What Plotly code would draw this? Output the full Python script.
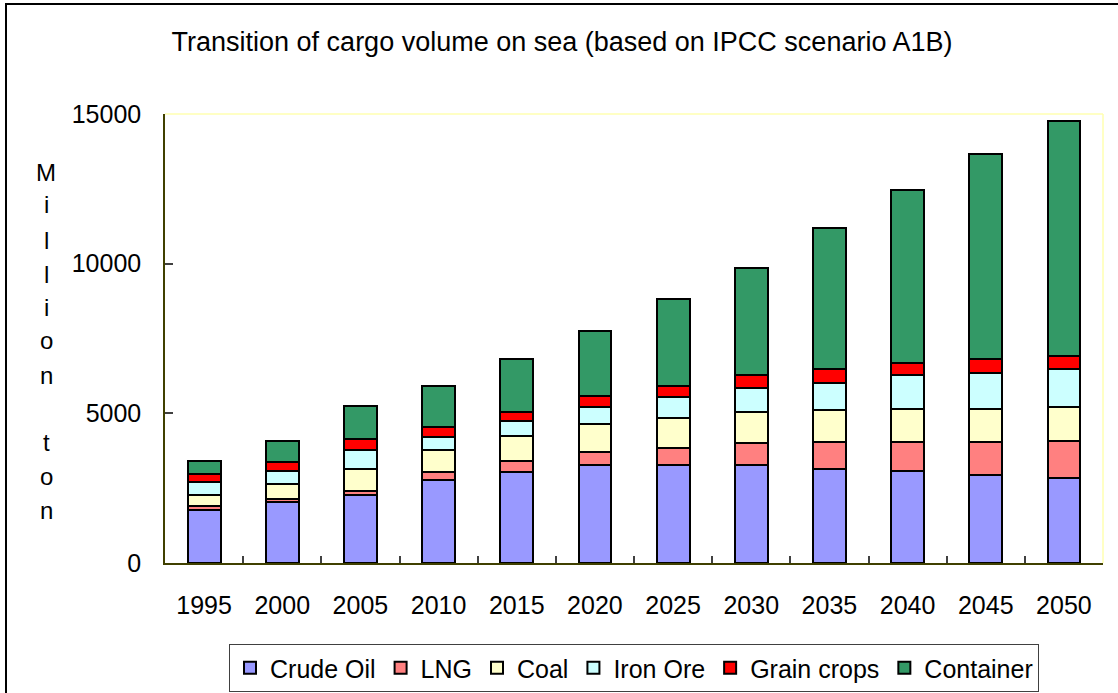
import plotly.graph_objects as go

years = ["1995", "2000", "2005", "2010", "2015", "2020", "2025", "2030", "2035", "2040", "2045", "2050"]

crude_oil = [1780, 2030, 2270, 2770, 3030, 3270, 3270, 3270, 3140, 3090, 2940, 2830]
lng       = [110, 120, 140, 270, 380, 440, 580, 750, 890, 950, 1090, 1240]
coal      = [380, 500, 730, 730, 820, 940, 1010, 1010, 1070, 1120, 1120, 1140]
iron_ore  = [430, 430, 620, 450, 500, 570, 680, 810, 930, 1120, 1200, 1260]
grain     = [270, 310, 380, 310, 310, 360, 380, 440, 450, 390, 460, 430]
container = [440, 700, 1100, 1380, 1770, 2170, 2900, 3590, 4720, 5800, 6860, 7880]

series = [
    ("Crude Oil", crude_oil, "#9999FF"),
    ("LNG", lng, "#FF8080"),
    ("Coal", coal, "#FFFFCC"),
    ("Iron Ore", iron_ore, "#CCFFFF"),
    ("Grain crops", grain, "#FF0000"),
    ("Container", container, "#339966"),
]

FONT = "Liberation Sans"

fig = go.Figure()
for name, vals, color in series:
    fig.add_trace(go.Bar(
        x=years, y=vals, name=name, width=0.42,
        marker=dict(color=color, line=dict(color="black", width=2)),
    ))

W, H = 1118, 693
L, R, T, B = 165, 1103, 114, 563
pw, ph = R - L, B - T

def px_x(x):
    return (x - L) / pw

def px_y(y):
    return (B - y) / ph

fig.update_layout(
    width=W, height=H,
    barmode="stack",
    plot_bgcolor="white", paper_bgcolor="white",
    margin=dict(l=L, r=W - R, t=T, b=H - B, pad=0, autoexpand=False),
    font=dict(family=FONT, size=26, color="black"),
    title=dict(
        text="Transition of cargo volume on sea (based on IPCC scenario A1B)",
        x=562 / W, xanchor="center", y=1 - 42 / H, yanchor="middle",
        font=dict(family=FONT, size=27, color="black"),
    ),
    showlegend=True,
    legend=dict(
        orientation="h",
        x=px_x(229), xanchor="left",
        y=px_y(644), yanchor="top",
        bordercolor="#404040", borderwidth=1,
        bgcolor="white",
        font=dict(family=FONT, size=25, color="black"),
        traceorder="normal",
        itemwidth=30,
    ),
    xaxis=dict(
        type="category",
        range=[-0.5, 11.5],
        automargin=False,
        showline=True, linecolor="#404000", linewidth=1.5,
        ticks="inside", ticklen=7, tickcolor="#404040", tickwidth=1.5,
        tickson="boundaries",
        showgrid=False, zeroline=False,
        tickfont=dict(family=FONT, size=25, color="black"),
        ticklabelstandoff=19,
    ),
    yaxis=dict(
        range=[0, 15000], dtick=5000, tickformat="d",
        automargin=False,
        showline=True, linecolor="#404000", linewidth=1.5,
        ticks="inside", ticklen=8, tickcolor="#404040", tickwidth=1.5,
        showgrid=False, zeroline=False,
        tickfont=dict(family=FONT, size=25, color="black"),
        ticklabelstandoff=17,
    ),
)

# plot-area border (light yellow) on top and right
fig.add_shape(type="line", xref="paper", yref="paper", x0=0, x1=1, y0=1, y1=1,
              line=dict(color="#FFFFB0", width=1.5), layer="below")
fig.add_shape(type="line", xref="paper", yref="paper", x0=1, x1=1, y0=0, y1=1,
              line=dict(color="#FFFFB0", width=1.5), layer="below")

# outer chart border
fig.add_shape(type="rect", xref="paper", yref="paper",
              x0=px_x(6), x1=px_x(1130), y0=px_y(705), y1=px_y(4),
              line=dict(color="black", width=2), fillcolor="rgba(0,0,0,0)", layer="below")

# vertical y-axis title, letter by letter
letters = [("M", 172), ("i", 205), ("l", 240), ("l", 274), ("i", 307), ("o", 340), ("n", 375),
           ("t", 442), ("o", 476), ("n", 510)]
for ch, yy in letters:
    fig.add_annotation(text=ch, xref="paper", yref="paper", x=px_x(46), y=px_y(yy),
                       xanchor="center", yanchor="middle", showarrow=False,
                       font=dict(family=FONT, size=24, color="black"))

fig.write_html(
    "out.html",
    config={"displayModeBar": False},
    post_script="document.body.style.margin='0';document.body.style.overflow='hidden';",
)
